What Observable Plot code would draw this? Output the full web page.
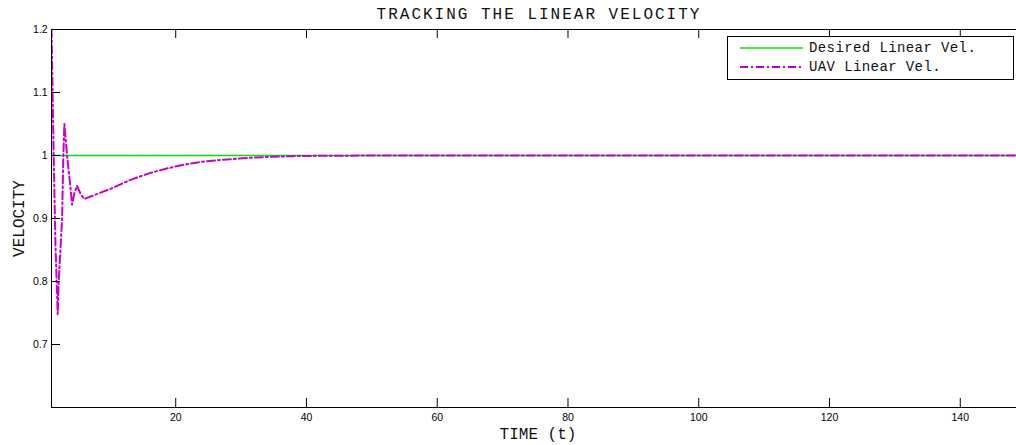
<!DOCTYPE html>
<html>
<head>
<meta charset="utf-8">
<script src="https://cdn.jsdelivr.net/npm/d3@7"></script>
<script src="https://cdn.jsdelivr.net/npm/@observablehq/plot@0.6"></script>
<style>
  html, body { margin: 0; padding: 0; background: #fff; overflow: hidden; }
  #wrap { position: relative; width: 1016px; height: 445px; }
  #title { height: 16px; padding-top: 6px; line-height: 16px; font: 16px "Liberation Mono", monospace; letter-spacing: 2px; text-align: center; color: #111; width: 1078px; margin-left: 0; white-space: nowrap; }
  #legend { position: absolute; left: 727px; top: 36px; width: 285px; height: 42px; border: 1px solid #000; background: #fff; font: 14px "Liberation Mono", monospace; letter-spacing: 0.4px; color: #111; }
  #legend .row { position: absolute; left: 0; height: 18px; line-height: 18px; }
  #legend svg { position: absolute; left: 12px; }
  #legend span { position: absolute; left: 81px; white-space: nowrap; }
</style>
</head>
<body>
<div id="wrap">
  <div id="title"></div>
  <div id="chart"></div>
  <div id="legend"></div>
</div>
<script>
// ---- data ----
const time = [1, 1.3, 1.6, 1.95, 2.1, 2.62, 2.81, 2.97, 3.38, 3.89, 4.15, 4.5, 4.9, 5.4, 6.0, 7.0, 8.5, 10, 11.3, 13, 16, 18.5, 21.5, 24, 26.8, 29.5, 32.4, 35, 38, 42, 50, 60, 80, 100, 120, 150];
const uavVel = [1.2, 1.02, 0.86, 0.748, 0.8, 0.9, 1.0, 1.05, 1.0, 0.95, 0.922, 0.94, 0.952, 0.94, 0.931, 0.935, 0.941, 0.947, 0.953, 0.961, 0.972, 0.979, 0.986, 0.99, 0.993, 0.995, 0.997, 0.998, 0.999, 0.9995, 1, 1, 1, 1, 1, 1];
const desiredTime = [1, 150];
const desiredVel = [1, 1];
const xTicks = [20, 40, 60, 80, 100, 120, 140];
const yTicks = [0.7, 0.8, 0.9, 1, 1.1, 1.2];
const xDomain = [1, 148.6];
const yDomain = [0.6, 1.2];
const seriesNames = ["Desired Linear Vel.", "UAV Linear Vel."];
const seriesColors = ["#00e600", "#c800c8"];
const titleText = "TRACKING THE LINEAR VELOCITY";
const xLabel = "TIME (t)";
const yLabel = "VELOCITY";

const uav = time.map((t, i) => ({t, v: uavVel[i]}));
const desired = desiredTime.map((t, i) => ({t, v: desiredVel[i]}));

const W = 1016, H = 423, mL = 51, mR = 0, mT = 7, mB = 38;
const plotW = W - mL - mR, plotH = H - mT - mB;
const dashDot = "8,3,2,3";
const mono = "Liberation Mono";

const chart = Plot.plot({
  width: W, height: H,
  marginLeft: mL, marginRight: mR, marginTop: mT, marginBottom: mB,
  style: {fontFamily: "Liberation Sans, Arial, sans-serif", fontSize: "10.5px", color: "#000", background: "#fff", overflow: "visible"},
  x: {domain: xDomain},
  y: {domain: yDomain},
  marks: [
    // data
    Plot.line(desired, {x: "t", y: "v", stroke: seriesColors[0], strokeWidth: 1.3, clip: true}),
    Plot.line(uav, {x: "t", y: "v", stroke: seriesColors[1], strokeWidth: 2, strokeDasharray: dashDot, clip: true}),
    // axes box (left, top, bottom)
    Plot.ruleY(yDomain, {stroke: "#000", strokeWidth: 1}),
    Plot.ruleX([xDomain[0]], {stroke: "#000", strokeWidth: 1}),
    // inward ticks
    Plot.tickX(xTicks, {x: d => d, stroke: "#000", insetTop: plotH - 9}),
    Plot.tickX(xTicks, {x: d => d, stroke: "#000", insetBottom: plotH - 9}),
    Plot.tickY(yTicks, {y: d => d, stroke: "#000", insetRight: plotW - 9}),
    // tick labels
    Plot.axisX(xTicks, {anchor: "bottom", tickSize: 0, tickPadding: 6, tickFormat: d => String(d), label: null}),
    Plot.axisY(yTicks, {anchor: "left", tickSize: 0, tickPadding: 4, tickFormat: d => String(d), label: null}),
    // axis titles
    Plot.text([xLabel], {text: d => d, frameAnchor: "bottom", lineAnchor: "middle", textAnchor: "middle", dy: 26, dx: 4, fontFamily: mono, fontSize: 16, letterSpacing: 1, fill: "#111"}),
    Plot.text([yLabel], {text: d => d, frameAnchor: "left", lineAnchor: "middle", textAnchor: "middle", rotate: -90, dx: -33, fontFamily: mono, fontSize: 16, letterSpacing: 0.3, fill: "#111"})
  ]
});
document.getElementById("chart").appendChild(chart);
document.getElementById("title").textContent = titleText;

// legend (inside the axes, top right)
const legend = document.getElementById("legend");
const rows = [
  {name: seriesNames[0], color: seriesColors[0], dash: null, w: 1.3, top: 2},
  {name: seriesNames[1], color: seriesColors[1], dash: dashDot, w: 2, top: 21}
];
rows.forEach(r => {
  const row = document.createElement("div");
  row.className = "row";
  row.style.top = r.top + "px";
  row.style.width = "280px";
  row.innerHTML = `<svg width="63" height="18"><line x1="0" x2="63" y1="9" y2="9" stroke="${r.color}" stroke-width="${r.w}" ${r.dash ? `stroke-dasharray="${r.dash}"` : ""}/></svg><span>${r.name}</span>`;
  legend.appendChild(row);
});
</script>
</body>
</html>
